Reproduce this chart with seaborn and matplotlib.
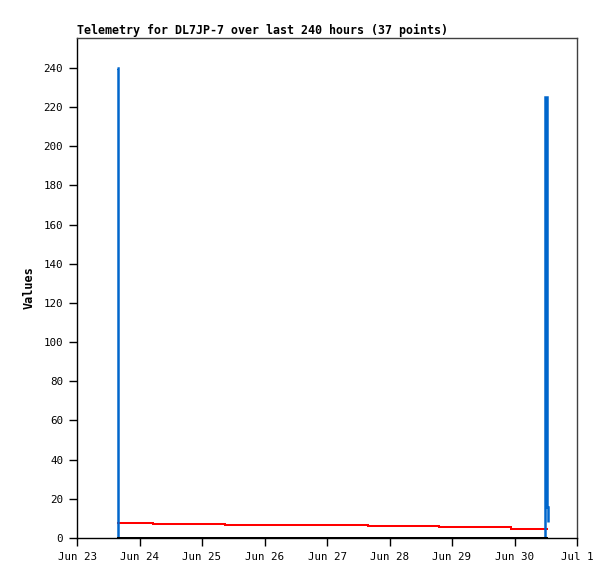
import pandas as pd
import matplotlib.pyplot as plt
import matplotlib.dates as mdates
import seaborn as sns

# Sample instants, hours after Jun 23 00:00
hours = [15.4, 15.7, 29.2, 56.8, 84.5, 111.7, 139.0, 166.7, 179.8, 180.3, 180.7, 180.9]
blue_vals = [240, 0, 0, 0, 0, 0, 0, 0, 225, 16, 8, 8]
red_vals = [7.7, 7.7, 7.2, 6.7, 6.4, 6.1, 5.6, 4.7, 4.7, 4.7, 4.7, 4.7]
black_vals = [0, 0, 0, 0, 0, 0, 0, 0, 0, 0, 0, 0]

start = pd.Timestamp("2024-06-23 00:00")
df = pd.DataFrame({
    "time": [start + pd.Timedelta(hours=h) for h in hours],
    "blue": blue_vals,
    "red": red_vals,
    "black": black_vals,
})

sns.set_style("white")
plt.rcParams['font.family'] = ['DejaVu Sans Mono']
plt.rcParams['text.color'] = 'black'
plt.rcParams['axes.labelcolor'] = 'black'
plt.rcParams['xtick.color'] = 'black'
plt.rcParams['ytick.color'] = 'black'

fig = plt.figure(figsize=(6.15, 5.79), dpi=100)
ax = fig.add_axes([77/615, 1 - 538/579, 500/615, 500/579])

line_kw = dict(drawstyle="steps-post", solid_capstyle="butt", solid_joinstyle="miter")
sns.lineplot(data=df, x="time", y="red", color="#ff0000", lw=1.45, ax=ax, **line_kw)
sns.lineplot(data=df, x="time", y="blue", color="#0066cc", lw=1.8, ax=ax, **line_kw)
sns.lineplot(data=df, x="time", y="black", color="black", lw=1.45, ax=ax, **line_kw)

ax.set_xlim(pd.Timestamp("2024-06-23"), pd.Timestamp("2024-07-01"))
ax.set_ylim(0, 255.3)
ax.set_yticks(range(0, 241, 20))
ax.xaxis.set_major_locator(mdates.DayLocator())
ax.xaxis.set_major_formatter(mdates.DateFormatter("%b %-d"))

ax.tick_params(bottom=True, left=True, direction="out", length=6, width=1,
               labelsize=7.8, color="black", pad=4)
for side in ["left", "bottom"]:
    ax.spines[side].set_color("black")
    ax.spines[side].set_linewidth(1)
for side in ["top", "right"]:
    ax.spines[side].set_color("#404040")
    ax.spines[side].set_linewidth(1)

ax.set_xlabel("")
ax.set_ylabel("Values", fontsize=8.6, fontweight="bold", labelpad=6)
ax.set_title("Telemetry for DL7JP-7 over last 240 hours (37 points)",
             loc="left", fontsize=8.35, fontweight="bold", pad=3)

plt.savefig("out.png", dpi=100)
